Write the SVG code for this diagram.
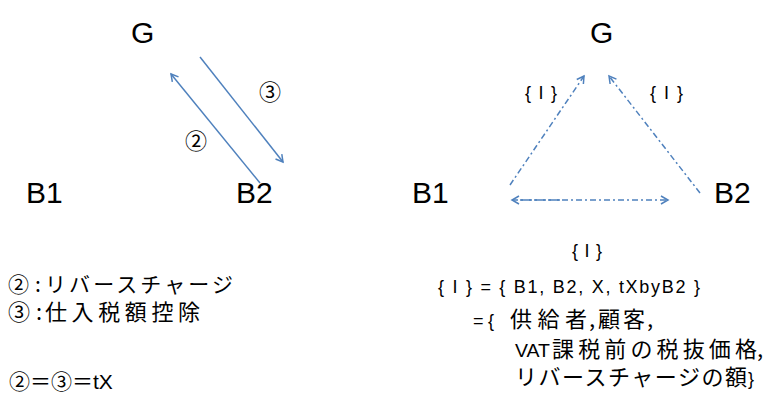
<svg xmlns="http://www.w3.org/2000/svg" width="765" height="396" viewBox="0 0 765 396">
<style>
.n{font-family:"Liberation Sans","Noto Sans CJK JP",sans-serif;font-size:30px;fill:#000}
.j{font-family:"Noto Sans CJK JP",sans-serif;font-size:21px;fill:#000}
.k{font-family:"Noto Sans CJK JP",sans-serif;font-size:22px;fill:#000}
.s{font-family:"Liberation Sans","Noto Sans CJK JP",sans-serif;font-size:18px;fill:#000}
.a{stroke:#4f81bd;stroke-width:1.5;fill:none}
.d{stroke:#4f81bd;stroke-width:1.5;fill:none;stroke-dasharray:6 3 2 3}
</style>
<defs>
<marker id="ah" markerWidth="10" markerHeight="10" refX="8" refY="5" orient="auto" markerUnits="userSpaceOnUse"><path d="M1,1 L8,5 L1,9" fill="none" stroke="#4f81bd" stroke-width="1.5"/></marker>
</defs>
<g id="nodeGL"><text class="n" x="131" y="43">G</text></g>
<g id="nodeB1L"><text class="n" x="26" y="203">B1</text></g>
<g id="nodeB2L"><text class="n" x="236" y="203">B2</text></g>
<g id="nodeGR"><text class="n" x="590" y="43">G</text></g>
<g id="nodeB1R"><text class="n" x="412" y="203">B1</text></g>
<g id="nodeB2R"><text class="n" x="714" y="203">B2</text></g>
<g id="connectors">
<line class="a" x1="260" y1="183" x2="171" y2="74" marker-end="url(#ah)"/>
<line class="a" x1="200" y1="57" x2="283" y2="162" marker-end="url(#ah)"/>
<line class="d" x1="510" y1="185" x2="584" y2="76" marker-end="url(#ah)"/>
<line class="d" x1="700" y1="193" x2="609" y2="76" marker-end="url(#ah)"/>
<line class="d" x1="520" y1="200" x2="668" y2="200" marker-end="url(#ah)"/>
<line class="d" x1="560" y1="200" x2="512" y2="200" marker-end="url(#ah)"/>
</g>
<g id="labels">
<text class="k" x="259" y="100">③</text>
<text class="k" x="185" y="149">②</text>
<text class="s" x="525" y="99" textLength="32" lengthAdjust="spacing">{ I }</text>
<text class="s" x="650" y="99" textLength="33" lengthAdjust="spacing">{ I }</text>
<text class="s" x="572" y="257" textLength="30" lengthAdjust="spacing">{ I }</text>
</g>
<g id="notes">
<text class="j" y="292"><tspan x="8">②</tspan><tspan x="35">:</tspan><tspan x="45" textLength="188" lengthAdjust="spacing">リバースチャージ</tspan></text>
<text class="k" y="320"><tspan x="8">③</tspan><tspan x="36">:</tspan><tspan x="45" textLength="155" lengthAdjust="spacing">仕入税額控除</tspan></text>
<text class="j" x="9" y="389">②＝③＝<tspan font-family="Liberation Sans">tX</tspan></text>
<text class="s" x="438" y="293" font-size="19" textLength="262" lengthAdjust="spacing">{ I } = { B1, B2, X, tXbyB2 }</text>
<text class="k" y="327"><tspan x="473" font-family="Liberation Sans" font-size="18">=</tspan><tspan x="488" font-family="Liberation Sans" font-size="18">{</tspan><tspan x="510" textLength="77" lengthAdjust="spacing">供給者</tspan><tspan x="589">,</tspan><tspan x="598" textLength="47" lengthAdjust="spacing">顧客</tspan><tspan x="647">,</tspan></text>
<text class="k" y="357"><tspan x="515" font-family="Liberation Sans" font-size="18" textLength="35" lengthAdjust="spacingAndGlyphs">VAT</tspan><tspan x="552" textLength="205" lengthAdjust="spacing">課税前の税抜価格</tspan><tspan x="757">,</tspan></text>
<text class="k" y="385"><tspan x="515" textLength="232" lengthAdjust="spacing">リバースチャージの額</tspan><tspan x="748" font-family="Liberation Sans" font-size="18">}</tspan></text>
</g>
</svg>
